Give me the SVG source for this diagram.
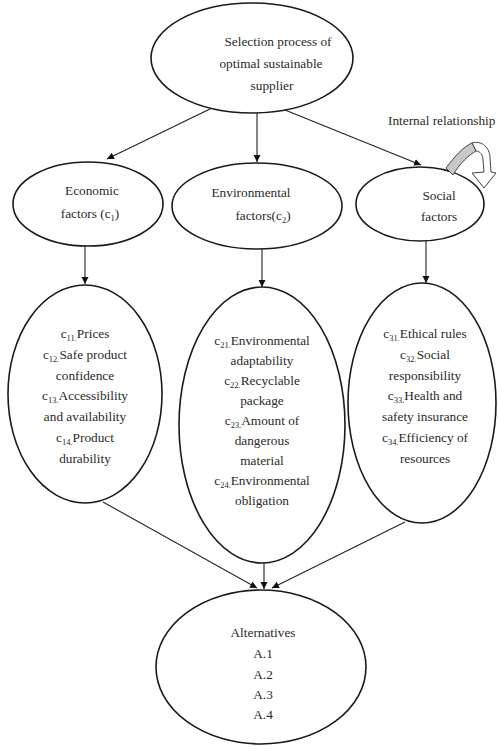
<svg xmlns="http://www.w3.org/2000/svg" width="498" height="747" viewBox="0 0 498 747">
<defs>
<marker id="ah" markerWidth="8" markerHeight="8" refX="7" refY="4" orient="auto" markerUnits="userSpaceOnUse">
<path d="M0,0.5 L7,4 L0,7.5 Z" fill="#111"/>
</marker>
<style>
.n{fill:#fff;stroke:#1a1a1a;stroke-width:1.6}
.t{font-family:"Liberation Serif","DejaVu Serif",serif;font-size:13.3px;fill:#2a2a2a;text-anchor:middle}
.s{font-size:8.5px}
.c{stroke:#222;stroke-width:1.1;fill:none;marker-end:url(#ah)}
</style>
</defs>
<rect width="498" height="747" fill="#fff"/>
<g id="connectors">
<line class="c" x1="212" y1="108" x2="107" y2="159"/>
<line class="c" x1="257" y1="113" x2="257" y2="162"/>
<line class="c" x1="285" y1="110" x2="421" y2="165"/>
<line class="c" x1="85" y1="246" x2="85" y2="284"/>
<line class="c" x1="262" y1="249" x2="262" y2="287"/>
<line class="c" x1="426" y1="240" x2="426" y2="283"/>
<line class="c" x1="103" y1="502" x2="257" y2="588"/>
<line class="c" x1="264" y1="563" x2="264" y2="589"/>
<line class="c" x1="405" y1="522" x2="272" y2="588"/>
</g>
<g id="top">
<ellipse class="n" cx="252" cy="58" rx="101" ry="55"/>
<text class="t" x="278" y="46">Selection process of</text>
<text class="t" x="271" y="68">optimal sustainable</text>
<text class="t" x="272" y="90">supplier</text>
</g>
<g id="economic">
<ellipse class="n" cx="88" cy="204" rx="75" ry="42"/>
<text class="t" x="92" y="195">Economic</text>
<text class="t" x="90" y="218">factors (c<tspan class="s" dy="3">1</tspan><tspan dy="-3">)</tspan></text>
</g>
<g id="environmental">
<ellipse class="n" cx="257" cy="206" rx="85" ry="43"/>
<text class="t" x="251" y="197">Environmental</text>
<text class="t" x="263" y="220">factors(c<tspan class="s" dy="3">2</tspan><tspan dy="-3">)</tspan></text>
</g>
<g id="social">
<ellipse class="n" cx="420" cy="204" rx="64" ry="37"/>
<text class="t" x="439" y="200">Social</text>
<text class="t" x="439" y="221">factors</text>
</g>
<g id="internal-relationship">
<text class="t" x="388" y="125" style="text-anchor:start">Internal relationship</text>
<path d="M472,143 C482,140 490,148 490,158 L491,172 L496,173 L484,188 L472,173 L484,172 L483,160 C483,155 480,151 476,151 Z" fill="#fff" stroke="#444" stroke-width="1"/>
<path d="M446,168 C455,156 463,147 472,143 L476,151 C469,155 460,163 453,175 Z" fill="#c8c8c8" stroke="#444" stroke-width="1"/>
</g>
<g id="economic-criteria">
<ellipse class="n" cx="85" cy="394" rx="77" ry="109"/>
<text class="t" x="85" y="338">c<tspan class="s" dy="3">11.</tspan><tspan dy="-3">Prices</tspan></text>
<text class="t" x="85" y="359">c<tspan class="s" dy="3">12.</tspan><tspan dy="-3">Safe product</tspan></text>
<text class="t" x="85" y="380">confidence</text>
<text class="t" x="85" y="400">c<tspan class="s" dy="3">13.</tspan><tspan dy="-3">Accessibility</tspan></text>
<text class="t" x="85" y="421">and availability</text>
<text class="t" x="85" y="442">c<tspan class="s" dy="3">14.</tspan><tspan dy="-3">Product</tspan></text>
<text class="t" x="85" y="463">durability</text>
</g>
<g id="environmental-criteria">
<ellipse class="n" cx="262" cy="425" rx="83" ry="138"/>
<text class="t" x="262" y="345">c<tspan class="s" dy="3">21.</tspan><tspan dy="-3">Environmental</tspan></text>
<text class="t" x="262" y="365">adaptability</text>
<text class="t" x="262" y="385">c<tspan class="s" dy="3">22.</tspan><tspan dy="-3">Recyclable</tspan></text>
<text class="t" x="262" y="405">package</text>
<text class="t" x="262" y="425">c<tspan class="s" dy="3">23.</tspan><tspan dy="-3">Amount of</tspan></text>
<text class="t" x="262" y="445">dangerous</text>
<text class="t" x="262" y="465">material</text>
<text class="t" x="262" y="485">c<tspan class="s" dy="3">24.</tspan><tspan dy="-3">Environmental</tspan></text>
<text class="t" x="262" y="505">obligation</text>
</g>
<g id="social-criteria">
<ellipse class="n" cx="422" cy="403" rx="74" ry="120"/>
<text class="t" x="425" y="338">c<tspan class="s" dy="3">31.</tspan><tspan dy="-3">Ethical rules</tspan></text>
<text class="t" x="425" y="359">c<tspan class="s" dy="3">32.</tspan><tspan dy="-3">Social</tspan></text>
<text class="t" x="425" y="380">responsibility</text>
<text class="t" x="425" y="400">c<tspan class="s" dy="3">33.</tspan><tspan dy="-3">Health and</tspan></text>
<text class="t" x="425" y="421">safety insurance</text>
<text class="t" x="425" y="442">c<tspan class="s" dy="3">34.</tspan><tspan dy="-3">Efficiency of</tspan></text>
<text class="t" x="425" y="463">resources</text>
</g>
<g id="alternatives">
<ellipse class="n" cx="261" cy="667" rx="105" ry="77"/>
<text class="t" x="263" y="637">Alternatives</text>
<text class="t" x="263" y="658">A.1</text>
<text class="t" x="263" y="679">A.2</text>
<text class="t" x="263" y="699">A.3</text>
<text class="t" x="263" y="719">A.4</text>
</g>
</svg>
